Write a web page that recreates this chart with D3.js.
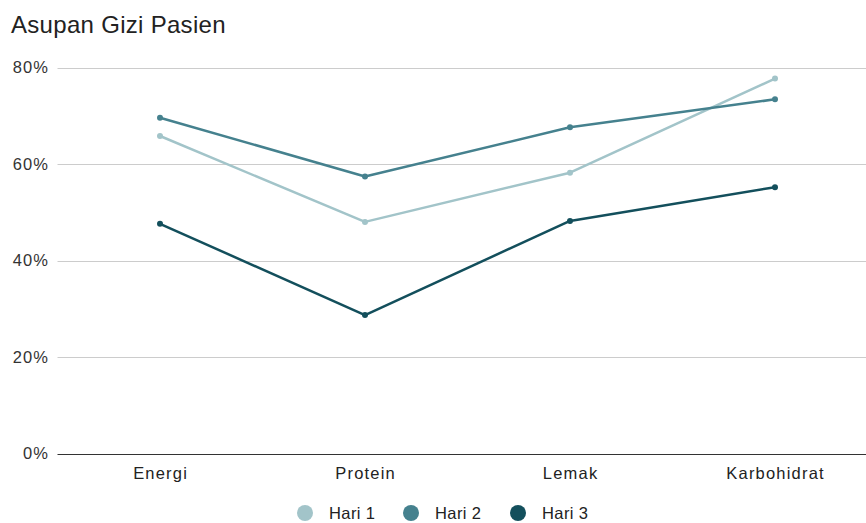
<!DOCTYPE html>
<html>
<head>
<meta charset="utf-8">
<script src="https://cdn.jsdelivr.net/npm/d3@7"></script>
<style>
  html, body { margin: 0; padding: 0; background: #fff; }
  svg { display: block; font-family: "Liberation Sans", Arial, sans-serif; }
</style>
</head>
<body>
<svg id="chart" width="866" height="523"></svg>
<script>
// Nutrient categories and daily intake percentages
const categories = ["Energi", "Protein", "Lemak", "Karbohidrat"];
const hari1 = [65.8, 48.0, 58.2, 77.7];
const hari2 = [69.6, 57.4, 67.6, 73.4];
const hari3 = [47.6, 28.7, 48.2, 55.2];
const seriesNames = ["Hari 1", "Hari 2", "Hari 3"];
const seriesColors = ["#a2c4c9", "#45818e", "#134f5c"];
const yTicks = [0, 20, 40, 60, 80];

const series = [hari1, hari2, hari3].map((vals, i) => ({
  name: seriesNames[i], color: seriesColors[i],
  values: vals.map((v, j) => ({ cat: categories[j], v }))
}));

const W = 866, H = 523;
const plot = { left: 57.5, right: 877.5, top: 67.5, bottom: 453.5 };
const svg = d3.select("#chart");

const x = d3.scaleBand().domain(categories).range([plot.left, plot.right]);
const y = d3.scaleLinear().domain([0, 80]).range([plot.bottom, plot.top]);

// Title
svg.append("text")
  .attr("x", 11).attr("y", 33)
  .attr("font-size", 24).attr("letter-spacing", 0.3).attr("fill", "#222")
  .text("Asupan Gizi Pasien");

// Gridlines
svg.append("g").selectAll("line").data(yTicks.filter(d => d > 0)).join("line")
  .attr("x1", plot.left).attr("x2", W)
  .attr("y1", d => Math.round(y(d)) + 0.5).attr("y2", d => Math.round(y(d)) + 0.5)
  .attr("stroke", "#cccccc").attr("stroke-width", 1);

// Baseline
svg.append("line")
  .attr("x1", plot.left).attr("x2", W)
  .attr("y1", Math.round(y(0)) + 0.5).attr("y2", Math.round(y(0)) + 0.5)
  .attr("stroke", "#333").attr("stroke-width", 1.2);

// Y tick labels
svg.append("g").selectAll("text").data(yTicks).join("text")
  .attr("x", 49).attr("y", d => y(d))
  .attr("dy", "0.35em")
  .attr("text-anchor", "end")
  .attr("font-size", 16.5).attr("letter-spacing", 1.1).attr("fill", "#333")
  .text(d => d + "%");

// Category labels
svg.append("g").selectAll("text").data(categories).join("text")
  .attr("x", d => x(d) + x.bandwidth() / 2 + 0.6).attr("y", 478.5)
  .attr("text-anchor", "middle")
  .attr("font-size", 16.5).attr("letter-spacing", 1.2).attr("fill", "#222")
  .text(d => d);

// Lines and point markers
const line = d3.line()
  .x(d => x(d.cat) + x.bandwidth() / 2)
  .y(d => y(d.v));

const sg = svg.append("g").selectAll("g").data(series).join("g");
sg.append("path")
  .attr("d", d => line(d.values))
  .attr("fill", "none")
  .attr("stroke", d => d.color)
  .attr("stroke-width", 2.5)
  .attr("stroke-linejoin", "round");
sg.each(function(s) {
  d3.select(this).selectAll("circle").data(s.values).join("circle")
    .attr("cx", d => x(d.cat) + x.bandwidth() / 2)
    .attr("cy", d => y(d.v))
    .attr("r", 3)
    .attr("fill", s.color);
});

// Legend
const legendX = [305, 411, 518];
const lg = svg.append("g").selectAll("g").data(series).join("g")
  .attr("transform", (d, i) => `translate(${legendX[i]},513)`);
lg.append("circle").attr("r", 8).attr("fill", d => d.color);
lg.append("text")
  .attr("x", 24).attr("y", 6)
  .attr("font-size", 16.5).attr("letter-spacing", 0.4).attr("fill", "#222")
  .text(d => d.name);
</script>
</body>
</html>
